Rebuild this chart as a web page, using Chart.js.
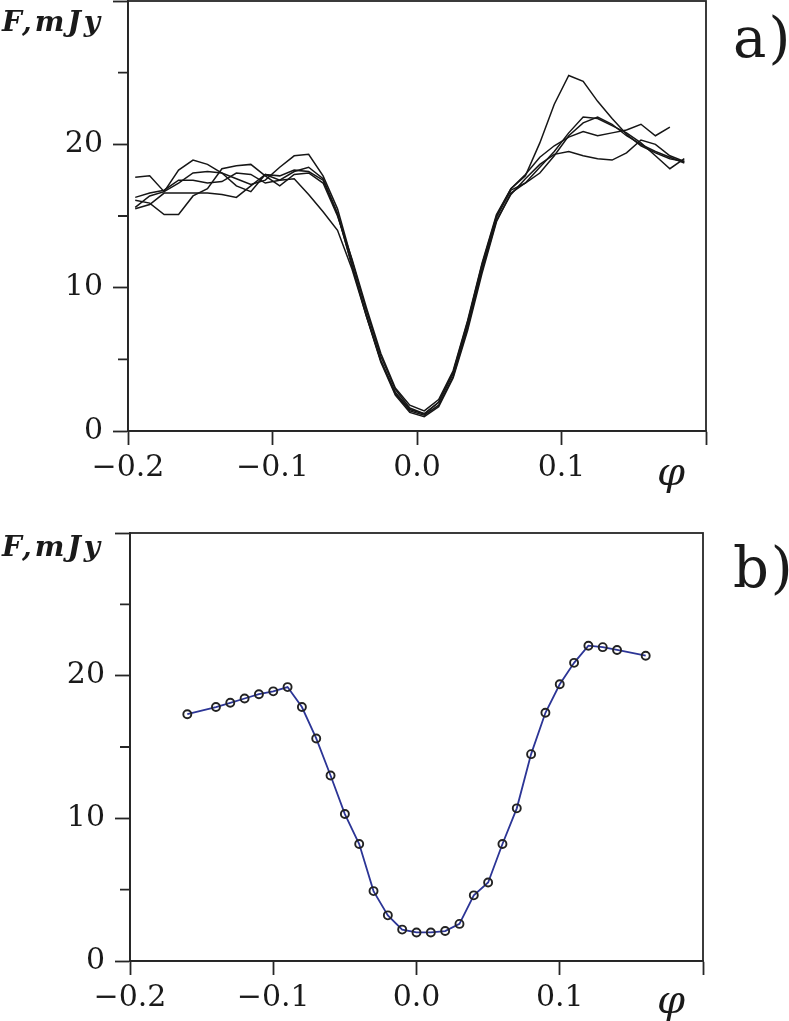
<!DOCTYPE html>
<html>
<head>
<meta charset="utf-8">
<script src="https://cdn.jsdelivr.net/npm/chart.js@4.4.1/dist/chart.umd.min.js"></script>
<style>
  html, body { margin: 0; padding: 0; background: #fff; }
  #page { position: relative; width: 789px; height: 1021px; overflow: hidden; }
  canvas { position: absolute; left: 0; }
  .lbl { position: absolute; font-family: "DejaVu Serif", serif; color: #1a1a1a; line-height: 1; white-space: nowrap; }
  .unit { font-size: 28px; font-weight: bold; font-style: italic; letter-spacing: 3px; }
  .panel { font-size: 56px; letter-spacing: 2px; }
  .phi { font-size: 40px; font-style: italic; }
</style>
</head>
<body>
<div id="page">
  <canvas id="chartA" width="789" height="530" style="top:-30px"></canvas>
  <canvas id="chartB" width="789" height="516" style="top:505px"></canvas>

  <div class="lbl unit" style="left:2px; top:8px">F,mJy</div>
  <div class="lbl panel" style="left:733px; top:10px">a)</div>
  <div class="lbl phi" style="left:657px; top:451px">φ</div>

  <div class="lbl unit" style="left:2px; top:533px">F,mJy</div>
  <div class="lbl panel" style="left:733px; top:540px">b)</div>
  <div class="lbl phi" style="left:657px; top:979px">φ</div>
</div>

<script>
// Panel a): five individual light curves, shared phase grid
const phaseA = [-0.195, -0.185, -0.175, -0.165, -0.155, -0.145, -0.135, -0.125, -0.115, -0.105,
                -0.095, -0.085, -0.075, -0.065, -0.055, -0.045, -0.035, -0.025, -0.015, -0.005,
                 0.005,  0.015,  0.025,  0.035,  0.045,  0.055,  0.065,  0.075,  0.085,  0.095,
                 0.105,  0.115,  0.125,  0.135,  0.145,  0.155,  0.165,  0.175,  0.185];

const curve1 = [17.7, 17.8, 16.7, 17.3, 18.0, 18.1, 18.0, 17.6, 17.2, 17.5,
                18.4, 19.2, 19.3, 17.8, 15.5, 11.9, 8.4, 5.2, 2.9, 1.6,
                1.2, 2.0, 4.1, 7.6, 11.6, 15.0, 16.9, 17.8, 20.1, 22.8,
                24.8, 24.4, 23.0, 21.8, 20.7, 19.9, 19.4, 19.0, 18.8];
const curve2 = [15.6, 16.4, 16.7, 18.2, 18.9, 18.6, 18.0, 17.1, 16.7, 17.9,
                17.5, 18.1, 18.4, 17.6, 15.2, 11.5, 8.0, 4.8, 2.5, 1.3,
                1.0, 1.7, 3.7, 7.0, 11.0, 14.6, 16.6, 17.3, 18.4, 19.5,
                20.8, 21.9, 21.8, 21.3, 20.8, 20.1, 19.2, 18.3, 19.0];
const curve3 = [16.1, 15.9, 15.1, 15.1, 16.4, 16.9, 18.3, 18.5, 18.6, 17.8,
                17.1, 17.9, 18.0, 17.3, 15.0, 12.0, 8.6, 5.4, 3.0, 1.8,
                1.4, 2.2, 4.2, 7.7, 11.7, 15.1, 16.9, 17.9, 19.1, 19.9,
                20.5, 20.9, 20.6, 20.8, 21.0, 21.4, 20.6, 21.2, null];
const curve4 = [15.5, 15.8, 16.6, 16.6, 16.6, 16.6, 16.5, 16.3, 17.1, 17.9,
                17.8, 18.2, 18.1, 17.5, 15.1, 11.6, 8.1, 4.9, 2.6, 1.4,
                1.1, 1.8, 3.8, 7.2, 11.2, 14.7, 16.5, 17.6, 18.6, 19.3,
                19.5, 19.2, 19.0, 18.9, 19.4, 20.3, 20.0, 19.2, 18.8];
const curve5 = [16.3, 16.6, 16.8, 17.5, 17.5, 17.3, 17.4, 18.0, 17.9, 17.3,
                17.5, 17.6, 16.5, 15.3, 14.0, 11.3, 8.0, 4.9, 2.7, 1.5,
                1.2, 2.0, 4.0, 7.4, 11.4, 14.9, 16.8, 17.3, 18.0, 19.2,
                20.6, 21.5, 21.9, 21.4, 20.6, 20.0, 19.5, 19.1, 18.7];

// Panel b): mean light curve
const phaseB = [-0.16, -0.14, -0.13, -0.12, -0.11, -0.10, -0.09, -0.08, -0.07, -0.06,
                -0.05, -0.04, -0.03, -0.02, -0.01, 0.00, 0.01, 0.02, 0.03, 0.04,
                 0.05, 0.06, 0.07, 0.08, 0.09, 0.10, 0.11, 0.12, 0.13, 0.14, 0.16];
const fluxB  = [17.3, 17.8, 18.1, 18.4, 18.7, 18.9, 19.2, 17.8, 15.6, 13.0,
                10.3, 8.2, 4.9, 3.2, 2.2, 2.0, 2.0, 2.1, 2.6, 4.6,
                5.5, 8.2, 10.7, 14.5, 17.4, 19.4, 20.9, 22.1, 22.0, 21.8, 21.4];

// Axes
const xTicks = [-0.2, -0.1, 0.0, 0.1, 0.2];
const xTickLabels = ['\u22120.2', '\u22120.1', '0.0', '0.1', ''];
const yTicks = [0, 10, 20, 30];
const yTickLabels = ['0', '10', '20', ''];
const yMinorTicks = [5, 15, 25];

const axisColor = '#262626';
const tickFont = { family: '"DejaVu Serif", serif', size: 30 };

const toPoints = (xs, ys) => xs.map((x, i) => ({ x: x, y: ys[i] }));

// box outline + short minor ticks on the y axis
const framePlugin = {
  id: 'frame',
  afterDraw(chart) {
    const { ctx, chartArea: a } = chart;
    const y = chart.scales.y;
    ctx.save();
    ctx.strokeStyle = axisColor;
    ctx.lineWidth = 1.8;
    ctx.strokeRect(a.left, a.top, a.right - a.left, a.bottom - a.top);
    ctx.beginPath();
    yMinorTicks.forEach(v => {
      const py = y.getPixelForValue(v);
      ctx.moveTo(a.left - 10, py);
      ctx.lineTo(a.left, py);
    });
    ctx.stroke();
    ctx.restore();
  }
};

function makeOptions(leftW, padRight, padTop, bottomH) {
  return {
    responsive: false,
    animation: false,
    layout: { padding: { left: 0, right: padRight, top: padTop, bottom: 0 } },
    plugins: { legend: { display: false }, tooltip: { enabled: false } },
    scales: {
      x: {
        type: 'linear',
        min: -0.2,
        max: 0.2,
        afterBuildTicks: s => { s.ticks = xTicks.map(v => ({ value: v })); },
        afterFit: s => { s.height = bottomH; },
        ticks: {
          callback: (v, i) => xTickLabels[i],
          font: tickFont,
          color: '#1a1a1a',
          padding: 5,
          maxRotation: 0,
          autoSkip: false
        },
        grid: { drawOnChartArea: false, tickLength: 14, tickColor: axisColor, tickWidth: 1.8 },
        border: { color: axisColor, width: 1.8 }
      },
      y: {
        min: 0,
        max: 30,
        afterBuildTicks: s => { s.ticks = yTicks.map(v => ({ value: v })); },
        afterFit: s => { s.width = leftW; },
        ticks: {
          callback: (v, i) => yTickLabels[i],
          font: tickFont,
          color: '#1a1a1a',
          padding: 10,
          autoSkip: false
        },
        grid: { drawOnChartArea: false, tickLength: 15, tickColor: axisColor, tickWidth: 1.8 },
        border: { color: axisColor, width: 1.8 }
      }
    }
  };
}

const curveStyle = { borderColor: '#161616', borderWidth: 1.5, pointRadius: 0, tension: 0, fill: false };

new Chart(document.getElementById('chartA').getContext('2d'), {
  type: 'line',
  data: {
    datasets: [curve1, curve2, curve3, curve4, curve5].map(c =>
      Object.assign({ data: toPoints(phaseA, c) }, curveStyle))
  },
  options: makeOptions(128, 83, 31, 69),
  plugins: [framePlugin]
});

new Chart(document.getElementById('chartB').getContext('2d'), {
  type: 'line',
  data: {
    datasets: [{
      data: toPoints(phaseB, fluxB),
      borderColor: '#2c3596',
      borderWidth: 1.8,
      tension: 0,
      fill: false,
      pointRadius: 4,
      pointBorderWidth: 1.9,
      pointBorderColor: '#222222',
      pointBackgroundColor: 'rgba(255,255,255,0)'
    }]
  },
  options: makeOptions(130, 86, 26, 60),
  plugins: [framePlugin]
});
</script>
</body>
</html>
